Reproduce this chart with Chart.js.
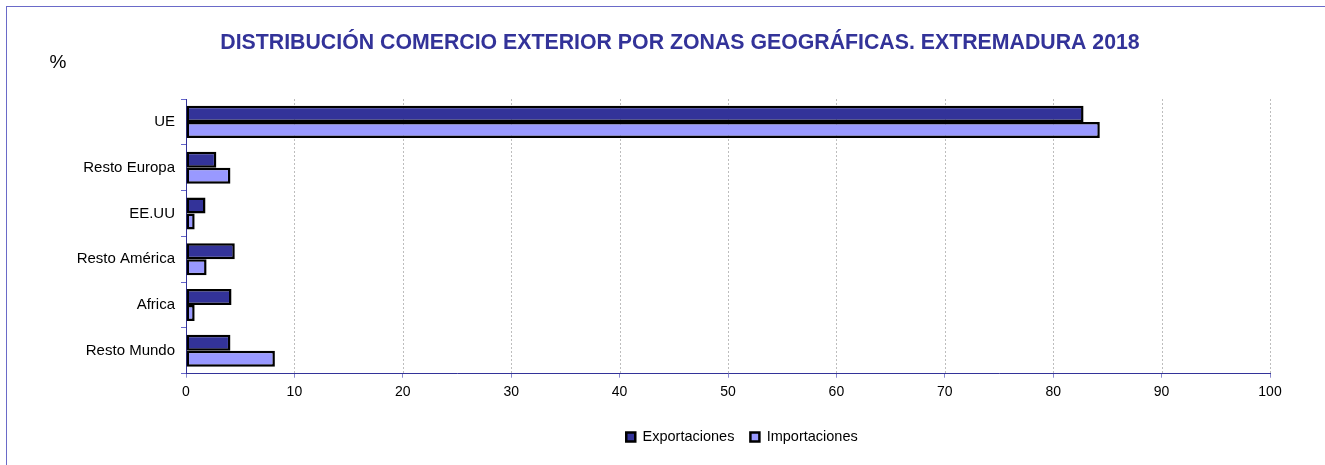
<!DOCTYPE html>
<html lang="es">
<head>
<meta charset="UTF-8">
<title>Distribución comercio exterior por zonas geográficas</title>
<script src="https://cdn.jsdelivr.net/npm/chart.js"></script>
<style>
    body { margin: 0; background: #fff; font-family: Arial, "Liberation Sans", sans-serif; }
    #wrap { position: relative; width: 1325px; height: 465px; overflow: hidden; }
    #frame { position: absolute; left: 6px; top: 6px; width: 1330px; height: 470px; border: 1px solid #6a6ac8; }
    canvas { position: absolute; left: 0; top: 0; }
</style>
</head>
<body>
<div id="wrap">
    <div id="frame"></div>
    <canvas id="chart" width="1325" height="465"></canvas>
</div>
<script>
    // datos (%)
    const zonas = ['UE', 'Resto Europa', 'EE.UU', 'Resto América', 'Africa', 'Resto Mundo'];
    const exportaciones = [82.8, 2.8, 1.8, 4.5, 4.2, 4.1];
    const importaciones = [84.3, 4.1, 0.8, 1.9, 0.8, 8.2];
    const ticksX = [0, 10, 20, 30, 40, 50, 60, 70, 80, 90, 100];

    const FONT = 'Arial, "Liberation Sans", sans-serif';

    // titulo y "%"
    const textos = {
        id: 'textos',
        afterDraw(c) {
            const ctx = c.ctx;
            ctx.save();
            ctx.fillStyle = '#333399';
            ctx.font = 'bold 21.3px ' + FONT;
            ctx.textAlign = 'center';
            ctx.textBaseline = 'middle';
            ctx.fillText('DISTRIBUCIÓN COMERCIO EXTERIOR POR ZONAS GEOGRÁFICAS. EXTREMADURA 2018', 680, 43);
            ctx.fillStyle = '#000';
            ctx.font = '19px ' + FONT;
            ctx.fillText('%', 58, 63);
            ctx.restore();
        }
    };

    // lineas verticales discontinuas
    const dashGrid = {
        id: 'dashGrid',
        beforeDatasetsDraw(c) {
            const ctx = c.ctx, x = c.scales.x, a = c.chartArea;
            ctx.save();
            ctx.strokeStyle = '#bdbdbd';
            ctx.setLineDash([2, 2]);
            ctx.lineWidth = 1;
            ticksX.slice(1).forEach(v => {
                const px = Math.round(x.getPixelForValue(v)) + 0.5;
                ctx.beginPath();
                ctx.moveTo(px, a.top);
                ctx.lineTo(px, a.bottom);
                ctx.stroke();
            });
            ctx.restore();
        }
    };

    // la leyenda va centrada sobre el area del grafico y mas abajo
    const moverLeyenda = {
        id: 'moverLeyenda',
        afterLayout(c) {
            const a = c.chartArea, lg = c.legend;
            const dx = (a.left + a.right) / 2 + 14 - (lg.left + lg.right) / 2;
            const dy = 434 - (lg.top + lg.bottom) / 2;
            lg.left += dx; lg.right += dx;
            lg.top += dy; lg.bottom += dy;
        }
    };

    new Chart(document.getElementById('chart'), {
        type: 'bar',
        data: {
            labels: zonas,
            datasets: [
                {
                    label: 'Exportaciones',
                    data: exportaciones,
                    backgroundColor: '#333399',
                    borderColor: '#000',
                    borderWidth: 2.5,
                    borderSkipped: false
                },
                {
                    label: 'Importaciones',
                    data: importaciones,
                    backgroundColor: '#9999ff',
                    borderColor: '#000',
                    borderWidth: 2.5,
                    borderSkipped: false
                }
            ]
        },
        options: {
            indexAxis: 'y',
            responsive: false,
            animation: false,
            categoryPercentage: 0.7,
            barPercentage: 1.0,
            layout: { padding: { left: 10, right: 55, top: 99, bottom: 18 } },
            scales: {
                x: {
                    min: 0, max: 100,
                    afterBuildTicks(s) { s.ticks = ticksX.map(v => ({ value: v })); },
                    grid: {
                        drawOnChartArea: false,
                        tickColor: '#8888cc',
                        tickLength: 4
                    },
                    border: { color: '#333399', width: 1 },
                    ticks: { color: '#000', font: { family: FONT, size: 14 }, padding: 6 }
                },
                y: {
                    afterFit(s) { s.width = 176; },
                    grid: {
                        offset: true,
                        drawOnChartArea: false,
                        tickColor: '#6666cc',
                        tickLength: 5
                    },
                    border: { color: '#333399', width: 1 },
                    ticks: { color: '#000', font: { family: FONT, size: 15 }, padding: 6 }
                }
            },
            plugins: {
                legend: {
                    position: 'bottom',
                    labels: {
                        color: '#000',
                        font: { family: FONT, size: 14.5 },
                        boxWidth: 9,
                        boxHeight: 9,
                        padding: 16
                    }
                },
                tooltip: { enabled: false }
            }
        },
        plugins: [textos, dashGrid, moverLeyenda]
    });
</script>
</body>
</html>
